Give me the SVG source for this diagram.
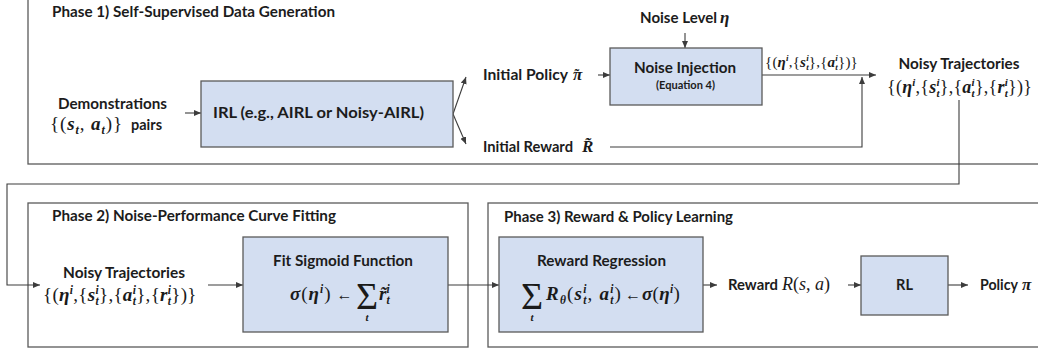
<svg xmlns="http://www.w3.org/2000/svg" width="1038" height="352" viewBox="0 0 1038 352">
<defs>
<style>
.ph{fill:none;stroke:#5a5a5a;stroke-width:1.3}
.bx{fill:#D3DEF1;stroke:#5a5a5a;stroke-width:1.3}
.lb{font-family:Lato,"Liberation Sans",Arial,sans-serif;font-weight:700;font-size:14.5px;fill:#1c1c1c}
.m{font-family:"Liberation Serif","DejaVu Serif",serif;fill:#1a1a1a}
.v{font-weight:700;font-style:italic}
.it{font-style:italic}
.cn{fill:none;stroke:#3c3c3c;stroke-width:1.1}
.ar{marker-end:url(#ah)}
</style>
<marker id="ah" markerUnits="userSpaceOnUse" markerWidth="8" markerHeight="7" refX="7" refY="3" orient="auto"><path d="M0,0 L7,3 L0,6 Z" fill="#3c3c3c"/></marker>
</defs>
<rect width="1038" height="352" fill="#fff"/>

<g id="phase1">
<rect class="ph" x="28" y="-2" width="1020" height="166"/>
<text class="lb" x="52" y="17" textLength="283" lengthAdjust="spacingAndGlyphs">Phase 1) Self-Supervised Data Generation</text>
</g>
<g id="phase2">
<rect class="ph" x="28" y="203" width="440" height="144"/>
<text class="lb" x="52" y="221" textLength="284" lengthAdjust="spacingAndGlyphs">Phase 2) Noise-Performance Curve Fitting</text>
</g>
<g id="phase3">
<rect class="ph" x="488" y="203" width="560" height="144"/>
<text class="lb" x="504" y="222" textLength="229" lengthAdjust="spacingAndGlyphs">Phase 3) Reward &amp; Policy Learning</text>
</g>

<g id="connectors">
<line class="cn ar" x1="185" y1="113" x2="201" y2="113"/>
<line class="cn ar" x1="453" y1="114" x2="466" y2="77"/>
<line class="cn ar" x1="453" y1="114" x2="466" y2="144"/>
<line class="cn ar" x1="598" y1="75" x2="610" y2="75"/>
<line class="cn ar" x1="685" y1="33" x2="685" y2="48"/>
<line class="cn ar" x1="762" y1="75" x2="876" y2="75"/>
<polyline class="cn ar" points="610,147 862,147 862,77"/>
<polyline class="cn ar" points="959,100 959,184 7,184 7,285 40,285"/>
<line class="cn ar" x1="208" y1="285" x2="243" y2="285"/>
<line class="cn ar" x1="448" y1="285" x2="499" y2="285"/>
<line class="cn ar" x1="703" y1="285" x2="717" y2="285"/>
<line class="cn ar" x1="848" y1="285" x2="861" y2="285"/>
<line class="cn ar" x1="948" y1="285" x2="968" y2="285"/>
</g>

<g id="demonstrations">
<text class="lb" x="112.5" y="109" text-anchor="middle" textLength="109" lengthAdjust="spacingAndGlyphs">Demonstrations</text>
<text class="m" x="50" y="130" font-size="19" letter-spacing="0.9">{(<tspan class="v">s</tspan><tspan class="v" font-size="12" dy="3.8">t</tspan><tspan dy="-3.8">, </tspan><tspan class="v">a</tspan><tspan class="v" font-size="12" dy="3.8">t</tspan><tspan dy="-3.8">)}</tspan></text>
<text class="lb" x="131" y="130" textLength="31" lengthAdjust="spacingAndGlyphs">pairs</text>
</g>

<g id="irl">
<rect class="bx" x="201" y="81" width="252" height="66"/>
<text class="lb" x="213" y="118" textLength="211" lengthAdjust="spacingAndGlyphs">IRL (e.g., AIRL or Noisy-AIRL)</text>
</g>

<g id="initial-policy">
<text class="lb" x="483" y="80" textLength="85" lengthAdjust="spacingAndGlyphs">Initial Policy</text>
<text class="m v" x="573" y="80" font-size="17">π<tspan x="574.5" dy="-1.5" font-size="14" font-style="normal">˜</tspan></text>
</g>

<g id="initial-reward">
<text class="lb" x="483" y="152" textLength="90" lengthAdjust="spacingAndGlyphs">Initial Reward</text>
<text class="m v" x="582" y="152" font-size="17">R̃</text>
</g>

<g id="noise-level">
<text class="lb" x="640" y="23" textLength="77" lengthAdjust="spacingAndGlyphs">Noise Level</text>
<text class="m v" x="720" y="23" font-size="17">η</text>
</g>

<g id="noise-injection">
<rect class="bx" x="610" y="48" width="152" height="57"/>
<text class="lb" x="685" y="73" text-anchor="middle" style="font-size:15.5px" textLength="102" lengthAdjust="spacingAndGlyphs">Noise Injection</text>
<text class="lb" x="685.5" y="89" text-anchor="middle" style="font-size:10.5px" textLength="59" lengthAdjust="spacingAndGlyphs">(Equation 4)</text>
</g>

<g id="edge-label">
<text class="m" x="765" y="67" font-size="15" letter-spacing="0.2">{(<tspan class="v">η</tspan><tspan class="v" font-size="9" dy="-5.8">i</tspan><tspan dy="5.8">,{</tspan><tspan class="v">s</tspan><tspan class="v" font-size="9" dy="-5.8">i</tspan><tspan class="v" font-size="9" dx="-2.7" dy="8.8">t</tspan><tspan dy="-3">},{</tspan><tspan class="v">a</tspan><tspan class="v" font-size="9" dy="-5.8">i</tspan><tspan class="v" font-size="9" dx="-2.7" dy="8.8">t</tspan><tspan dy="-3">})}</tspan></text>
</g>

<g id="noisy-trajectories-1">
<text class="lb" x="959" y="69" text-anchor="middle" textLength="121" lengthAdjust="spacingAndGlyphs">Noisy Trajectories</text>
<text class="m" x="887" y="93" font-size="18" letter-spacing="0.25">{(<tspan class="v">η</tspan><tspan class="v" font-size="11" dy="-7">i</tspan><tspan dy="7">,{</tspan><tspan class="v">s</tspan><tspan class="v" font-size="11" dy="-7">i</tspan><tspan class="v" font-size="11" dx="-3.3" dy="10.6">t</tspan><tspan dy="-3.6">},{</tspan><tspan class="v">a</tspan><tspan class="v" font-size="11" dy="-7">i</tspan><tspan class="v" font-size="11" dx="-3.3" dy="10.6">t</tspan><tspan dy="-3.6">},{</tspan><tspan class="v">r</tspan><tspan class="v" font-size="11" dy="-7">i</tspan><tspan class="v" font-size="11" dx="-3.3" dy="10.6">t</tspan><tspan dy="-3.6">})}</tspan></text>
</g>

<g id="noisy-trajectories-2">
<text class="lb" x="124" y="278" text-anchor="middle" textLength="122" lengthAdjust="spacingAndGlyphs">Noisy Trajectories</text>
<text class="m" x="43" y="301" font-size="19" letter-spacing="0.3">{(<tspan class="v">η</tspan><tspan class="v" font-size="11.5" dy="-7.3">i</tspan><tspan dy="7.3">,{</tspan><tspan class="v">s</tspan><tspan class="v" font-size="11.5" dy="-7.3">i</tspan><tspan class="v" font-size="11.5" dx="-3.5" dy="11.1">t</tspan><tspan dy="-3.8">},{</tspan><tspan class="v">a</tspan><tspan class="v" font-size="11.5" dy="-7.3">i</tspan><tspan class="v" font-size="11.5" dx="-3.5" dy="11.1">t</tspan><tspan dy="-3.8">},{</tspan><tspan class="v">r</tspan><tspan class="v" font-size="11.5" dy="-7.3">i</tspan><tspan class="v" font-size="11.5" dx="-3.5" dy="11.1">t</tspan><tspan dy="-3.8">})}</tspan></text>
</g>

<g id="fit-sigmoid">
<rect class="bx" x="243" y="237" width="205" height="95"/>
<text class="lb" x="343" y="266" text-anchor="middle" textLength="140" lengthAdjust="spacingAndGlyphs">Fit Sigmoid Function</text>
<text class="m" x="290" y="300" font-size="19" letter-spacing="1"><tspan class="v">σ</tspan>(<tspan class="v">η</tspan><tspan class="v" font-size="11.5" dy="-7.3">i</tspan><tspan dy="7.3">)</tspan></text>
<text class="m" x="344.5" y="300" font-size="16" text-anchor="middle">←</text>
<text class="m" x="367" y="309" font-size="38" text-anchor="middle">Σ<tspan class="v" x="367" dy="12" font-size="11">t</tspan></text>
<text class="m" x="379" y="300" font-size="19"><tspan class="v">r̃</tspan><tspan class="v" font-size="11.5" dy="-7.3">i</tspan><tspan class="v" font-size="11.5" dx="-3.2" dy="11.1">t</tspan></text>
</g>

<g id="reward-regression">
<rect class="bx" x="499" y="237" width="204" height="95"/>
<text class="lb" x="601.5" y="266" text-anchor="middle" textLength="129" lengthAdjust="spacingAndGlyphs">Reward Regression</text>
<text class="m" x="532" y="309" font-size="38" text-anchor="middle">Σ<tspan class="v" x="532" dy="12" font-size="11">t</tspan></text>
<text class="m" x="546" y="300" font-size="19" letter-spacing="1.2"><tspan class="v">R</tspan><tspan class="v" font-size="11.5" dy="3.8">θ</tspan><tspan dy="-3.8">(</tspan><tspan class="v">s</tspan><tspan class="v" font-size="11.5" dy="-7.3">i</tspan><tspan class="v" font-size="11.5" dx="-4.4" dy="11.1">t</tspan><tspan dy="-3.8">, </tspan><tspan class="v">a</tspan><tspan class="v" font-size="11.5" dy="-7.3">i</tspan><tspan class="v" font-size="11.5" dx="-4.4" dy="11.1">t</tspan><tspan dy="-3.8">)</tspan></text>
<text class="m" x="633" y="300" font-size="16" text-anchor="middle">←</text>
<text class="m" x="642" y="300" font-size="19" letter-spacing="0.3"><tspan class="v">σ</tspan>(<tspan class="v">η</tspan><tspan class="v" font-size="11.5" dy="-7.3">i</tspan><tspan dy="7.3">)</tspan></text>
</g>

<g id="reward">
<text class="lb" x="728" y="290" textLength="50" lengthAdjust="spacingAndGlyphs">Reward</text>
<text class="m" x="782" y="290" font-size="18"><tspan class="it">R</tspan>(<tspan class="it">s</tspan>, <tspan class="it">a</tspan>)</text>
</g>

<g id="rl">
<rect class="bx" x="861" y="256" width="87" height="59"/>
<text class="lb" x="904.5" y="290" text-anchor="middle">RL</text>
</g>

<g id="policy">
<text class="lb" x="980" y="290" textLength="38" lengthAdjust="spacingAndGlyphs">Policy</text>
<text class="m v" x="1022" y="290" font-size="17">π</text>
</g>
</svg>
